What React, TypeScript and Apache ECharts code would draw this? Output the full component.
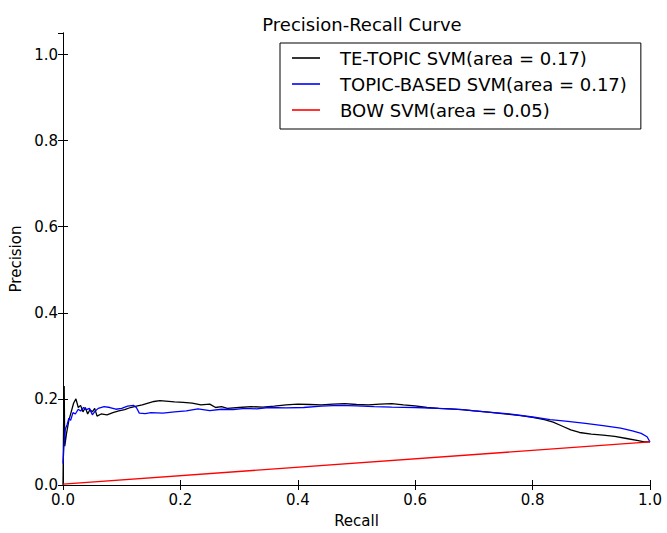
import React, { useEffect, useRef } from "react";
import * as echarts from "echarts";

const titleText = "Precision-Recall Curve";
const xName = "Recall";
const yName = "Precision";

const teTopicName = "TE-TOPIC SVM(area = 0.17)";
const teTopicRecall = [0, 0.001, 0.002, 0.003, 0.006, 0.01, 0.014, 0.018, 0.022, 0.026, 0.03, 0.034, 0.038, 0.042, 0.046, 0.05, 0.054, 0.058, 0.065, 0.075, 0.085, 0.095, 0.105, 0.115, 0.125, 0.135, 0.145, 0.155, 0.165, 0.175, 0.19, 0.205, 0.22, 0.235, 0.25, 0.26, 0.27, 0.28, 0.3, 0.32, 0.34, 0.36, 0.38, 0.4, 0.42, 0.44, 0.46, 0.48, 0.5, 0.52, 0.54, 0.56, 0.58, 0.6, 0.62, 0.64, 0.66, 0.68, 0.7, 0.72, 0.74, 0.76, 0.78, 0.8, 0.82, 0.835, 0.85, 0.865, 0.88, 0.9, 0.92, 0.94, 0.96, 0.98, 0.99, 1.0];
const teTopicPrecision = [0.0, 0.14, 0.23, 0.09, 0.12, 0.15, 0.17, 0.19, 0.2, 0.18, 0.185, 0.17, 0.18, 0.165, 0.175, 0.17, 0.178, 0.16, 0.165, 0.163, 0.168, 0.172, 0.175, 0.18, 0.183, 0.186, 0.19, 0.194, 0.196, 0.195, 0.193, 0.192, 0.19, 0.186, 0.188, 0.18, 0.182, 0.178, 0.18, 0.182, 0.181, 0.183, 0.186, 0.188, 0.187, 0.186, 0.188, 0.189, 0.187, 0.186, 0.188, 0.189, 0.186, 0.184, 0.18, 0.178, 0.177, 0.175, 0.172, 0.17, 0.167, 0.164, 0.161, 0.157, 0.152, 0.146, 0.137, 0.128, 0.122, 0.118, 0.116, 0.113, 0.108, 0.103, 0.1, 0.1];

const topicBasedName = "TOPIC-BASED SVM(area = 0.17)";
const topicBasedRecall = [0, 0.002, 0.004, 0.007, 0.01, 0.013, 0.017, 0.021, 0.026, 0.03, 0.035, 0.04, 0.045, 0.05, 0.055, 0.06, 0.07, 0.08, 0.09, 0.1, 0.11, 0.12, 0.125, 0.13, 0.14, 0.15, 0.17, 0.19, 0.21, 0.23, 0.25, 0.27, 0.29, 0.31, 0.33, 0.35, 0.38, 0.41, 0.44, 0.47, 0.5, 0.53, 0.56, 0.6, 0.64, 0.68, 0.72, 0.76, 0.8, 0.83, 0.86, 0.89, 0.92, 0.95, 0.97, 0.985, 0.995, 1.0];
const topicBasedPrecision = [0.05, 0.1, 0.13, 0.14, 0.155, 0.15, 0.168, 0.165, 0.176, 0.172, 0.18, 0.175, 0.178, 0.163, 0.172, 0.178, 0.182, 0.18, 0.176, 0.178, 0.183, 0.185, 0.18, 0.167, 0.166, 0.168, 0.167, 0.17, 0.172, 0.177, 0.173, 0.176, 0.175, 0.178, 0.177, 0.18, 0.179, 0.18, 0.183, 0.185, 0.184, 0.182, 0.181, 0.18, 0.178, 0.175, 0.17, 0.165, 0.158, 0.152, 0.148, 0.143, 0.138, 0.132, 0.126, 0.12, 0.112, 0.1];

const bowName = "BOW SVM(area = 0.05)";
const bowRecall = [0, 1.0];
const bowPrecision = [0.002, 0.1];

const FONT = "DejaVu Sans";

function zip(xs: number[], ys: number[]) {
  return xs.map((x, i) => [x, ys[i]]);
}

export default function App() {
  const ref = useRef<HTMLDivElement>(null);
  useEffect(() => {
    if (!ref.current) return;
    const chart = echarts.init(ref.current, undefined, { renderer: "svg" });
    const axisLine = { show: true, lineStyle: { color: "#000", width: 1 } };
    const axisTick = { show: true, inside: true, length: 5, lineStyle: { color: "#000", width: 1 } };
    const label = { color: "#000", fontFamily: FONT, fontSize: 15 };
    const line = (name: string, data: number[][], color: string) => ({
      name,
      type: "line",
      data,
      symbol: "none",
      showSymbol: false,
      lineStyle: { color, width: 1.3 },
      itemStyle: { color },
      xAxisIndex: 0,
      yAxisIndex: 0,
      z: 3,
    });
    chart.setOption({
      animation: false,
      backgroundColor: "#fff",
      title: {
        text: titleText,
        left: 357,
        top: 10,
        textAlign: "center",
        textStyle: { color: "#000", fontFamily: FONT, fontSize: 18, fontWeight: "normal" },
      },
      grid: { left: 63, right: 17, top: 33, bottom: 44, containLabel: false },
      legend: {
        orient: "vertical",
        left: 280,
        top: 43,
        padding: [5, 14, 9, 12],
        icon: "rect",
        itemWidth: 28,
        itemHeight: 1.6,
        itemGap: 6,
        borderColor: "#000",
        borderWidth: 1,
        borderRadius: 0,
        backgroundColor: "#fff",
        textStyle: { color: "#000", fontFamily: FONT, fontSize: 18, lineHeight: 20, padding: [0, 0, 0, 15] },
        data: [teTopicName, topicBasedName, bowName],
      },
      xAxis: [
        {
          type: "value",
          min: 0,
          max: 1,
          interval: 0.2,
          position: "bottom",
          name: xName,
          nameLocation: "middle",
          nameGap: 28,
          nameTextStyle: { color: "#000", fontFamily: FONT, fontSize: 15 },
          axisLine,
          axisTick,
          axisLabel: { ...label, margin: 7, formatter: (v: number) => v.toFixed(1) },
          splitLine: { show: false },
        },
        {
          type: "value",
          min: 0,
          max: 1,
          interval: 0.2,
          position: "top",
          axisLine,
          axisTick,
          axisLabel: { show: false },
          splitLine: { show: false },
        },
      ],
      yAxis: [
        {
          type: "value",
          min: 0,
          max: 1.05,
          interval: 0.2,
          position: "left",
          name: yName,
          nameLocation: "middle",
          nameGap: 33,
          nameRotate: 90,
          nameTextStyle: { color: "#000", fontFamily: FONT, fontSize: 15 },
          axisLine,
          axisTick,
          axisLabel: {
            ...label,
            margin: 5,
            showMaxLabel: false,
            formatter: (v: number) => (v > 1.001 ? "" : v.toFixed(1)),
          },
          splitLine: { show: false },
        },
        {
          type: "value",
          min: 0,
          max: 1.05,
          interval: 0.2,
          position: "right",
          axisLine,
          axisTick,
          axisLabel: { show: false },
          splitLine: { show: false },
        },
      ],
      series: [
        line(teTopicName, zip(teTopicRecall, teTopicPrecision), "#000000"),
        line(topicBasedName, zip(topicBasedRecall, topicBasedPrecision), "#0000ff"),
        line(bowName, zip(bowRecall, bowPrecision), "#ff0000"),
      ],
    });
    return () => chart.dispose();
  }, []);
  return <div ref={ref} style={{ width: 667, height: 533, position: "absolute", left: 0, top: 0 }} />;
}
